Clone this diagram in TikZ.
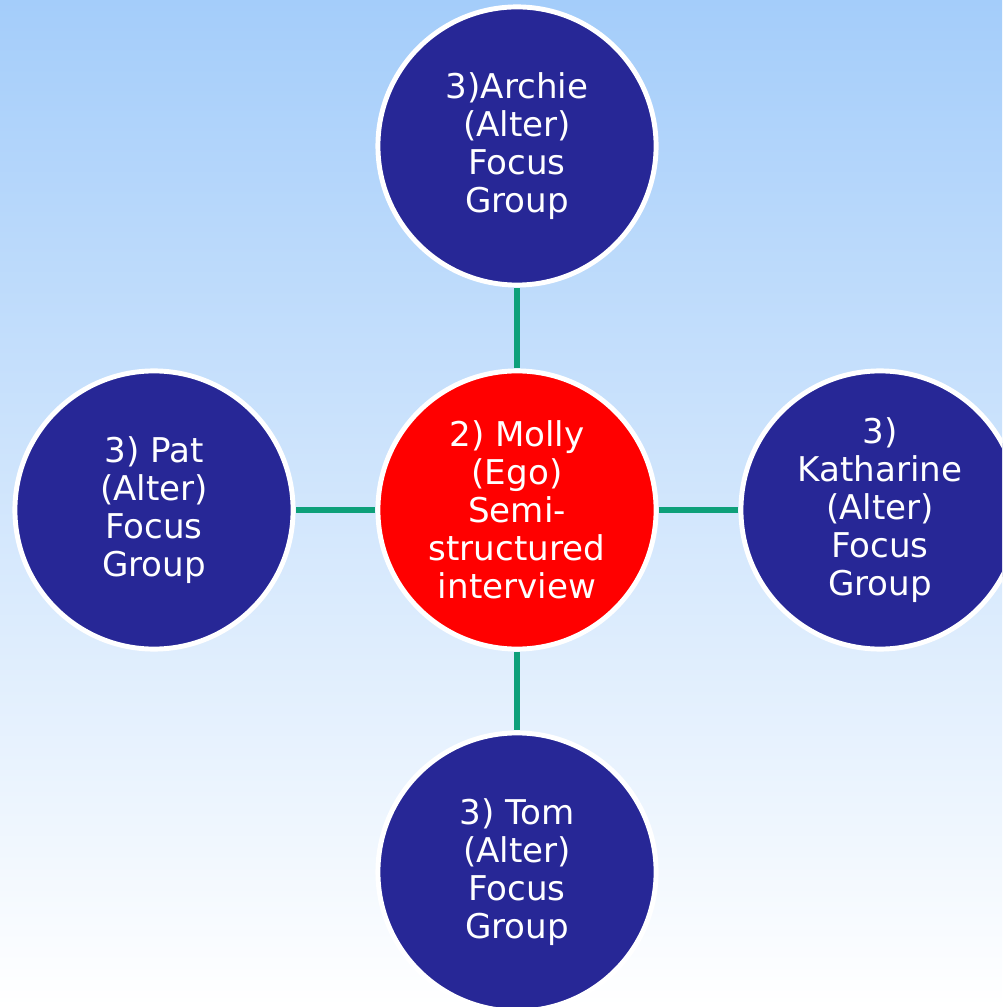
\documentclass[tikz,border=0pt]{standalone}
\usepackage{fontspec}
\setmainfont{DejaVu Sans}
\definecolor{altblue}{RGB}{39,39,150}
\definecolor{egored}{RGB}{255,0,0}
\definecolor{linkgreen}{RGB}{14,160,122}
\definecolor{skytop}{RGB}{164,205,250}

\begin{document}
\begin{tikzpicture}[x=0.01cm, y=-0.01cm,
    person/.style={circle, draw=white, line width=1.4pt, minimum size=2.78cm,
        inner sep=0pt, align=center, text=white,
        font=\fontsize{9.7}{10.8}\selectfont},
    link/.style={draw=linkgreen, line width=1.6pt}]
    \useasboundingbox (0,0) rectangle (1002,1007);
    \clip (0,0) rectangle (1002,1007);
    \shade[top color=skytop, bottom color=white] (0,0) rectangle (1002,1007);
    \node[person, fill=egored] (molly) at (517,510)
        {2) Molly\\(Ego)\\Semi-\\structured\\interview};
    \foreach \n/\p/\l in {archie/{517,146}/{3)Archie},
                          pat/{154,510}/{3) Pat},
                          kath/{880,510}/{3)\\Katharine},
                          tom/{517,872}/{3) Tom}} {
        \node[person, fill=altblue] (\n) at (\p) {\l\\(Alter)\\Focus\\Group};
        \path[link] (molly) -- (\n);
    }
\end{tikzpicture}
\end{document}
